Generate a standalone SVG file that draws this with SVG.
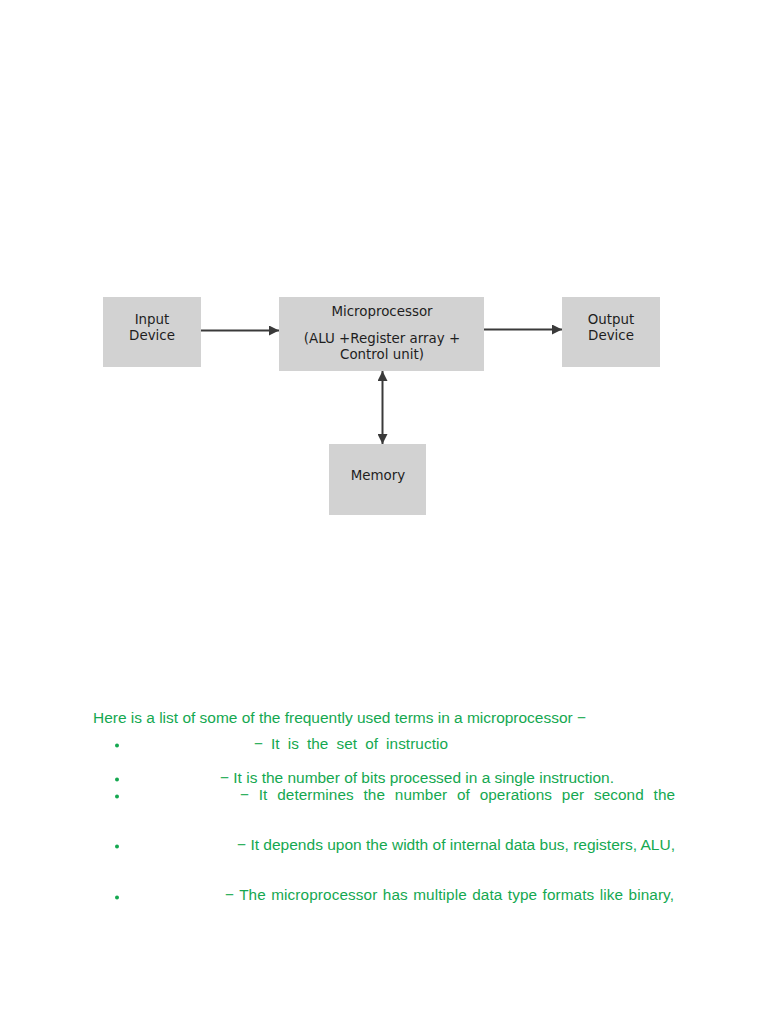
<svg xmlns="http://www.w3.org/2000/svg" width="768" height="1024" viewBox="0 0 768 1024">
<style>
.box{fill:#d2d2d2;}
.lbl{font-family:"DejaVu Sans",Verdana,sans-serif;font-size:13.4px;fill:#1e1e1e;text-anchor:middle;}
.conn{stroke:#3a3a3a;stroke-width:2;fill:none;}
.g{font-family:"Liberation Sans",Arial,sans-serif;font-size:15.3px;fill:#14a850;}
.dot{fill:#14a850;}
</style>
<defs>
<marker id="ah" viewBox="0 0 10 10" refX="10" refY="5" markerWidth="5" markerHeight="5" orient="auto-start-reverse">
<path d="M0,0 L10,5 L0,10 z" fill="#3a3a3a"/>
</marker>
</defs>
<rect width="768" height="1024" fill="#ffffff"/>
<g id="input">
<rect class="box" x="103" y="297" width="98" height="70"/>
<text class="lbl" x="152" y="324">Input</text>
<text class="lbl" x="152" y="340">Device</text>
</g>
<g id="microprocessor">
<rect class="box" x="279" y="297" width="205" height="74"/>
<text class="lbl" x="382" y="316">Microprocessor</text>
<text class="lbl" x="382" y="343">(ALU +Register array +</text>
<text class="lbl" x="382" y="359">Control unit)</text>
</g>
<g id="output">
<rect class="box" x="562" y="297" width="98" height="70"/>
<text class="lbl" x="611" y="324">Output</text>
<text class="lbl" x="611" y="340">Device</text>
</g>
<g id="memory">
<rect class="box" x="329" y="444" width="97" height="71"/>
<text class="lbl" x="378" y="480">Memory</text>
</g>
<g id="connectors">
<line class="conn" x1="201" y1="330.5" x2="279" y2="330.5" marker-end="url(#ah)"/>
<line class="conn" x1="484" y1="329.5" x2="562" y2="329.5" marker-end="url(#ah)"/>
<line class="conn" x1="382.5" y1="371" x2="382.5" y2="444" marker-start="url(#ah)" marker-end="url(#ah)"/>
</g>
<g id="terms">
<text class="g" x="93" y="723" textLength="493" lengthAdjust="spacingAndGlyphs">Here is a list of some of the frequently used terms in a microprocessor −</text>
<circle class="dot" cx="117" cy="745.5" r="2"/>
<text class="g" x="254" y="749" word-spacing="3.7" textLength="194" lengthAdjust="spacing">− It is the set of instructio</text>
<circle class="dot" cx="117" cy="779.5" r="2"/>
<text class="g" x="220" y="783" textLength="394" lengthAdjust="spacingAndGlyphs">− It is the number of bits processed in a single instruction.</text>
<circle class="dot" cx="117" cy="796.5" r="2"/>
<text class="g" x="240" y="800" word-spacing="5.4" textLength="435" lengthAdjust="spacing">− It determines the number of operations per second the</text>
<circle class="dot" cx="117" cy="846.5" r="2"/>
<text class="g" x="237" y="850" textLength="438" lengthAdjust="spacingAndGlyphs">− It depends upon the width of internal data bus, registers, ALU,</text>
<circle class="dot" cx="117" cy="897.5" r="2"/>
<text class="g" x="225" y="900" word-spacing="1" textLength="449" lengthAdjust="spacing">− The microprocessor has multiple data type formats like binary,</text>
</g>
</svg>
